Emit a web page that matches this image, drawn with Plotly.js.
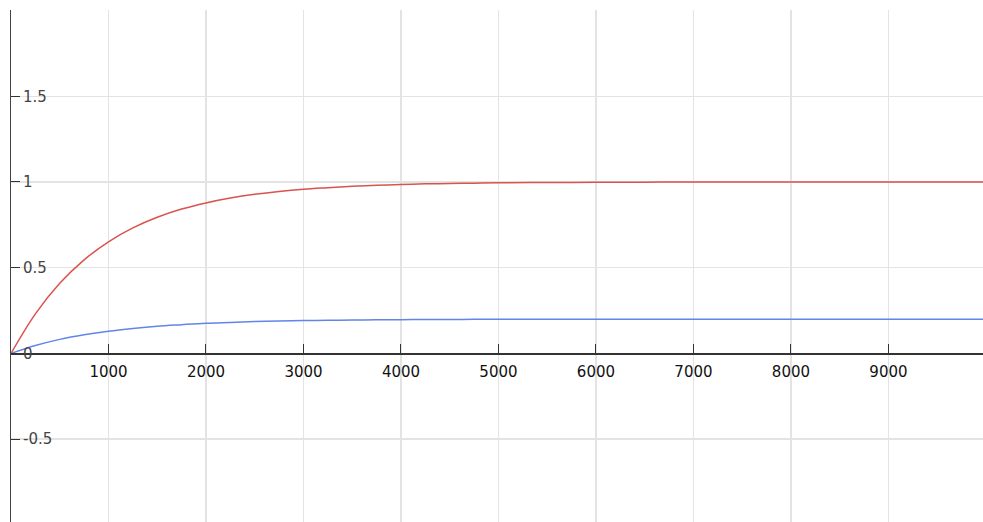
<!DOCTYPE html>
<html>
<head>
<meta charset="utf-8">
<script src="https://cdn.plot.ly/plotly-3.0.1.min.js"></script>
<style>html,body{margin:0;padding:0;background:#fff;}#chart{width:983px;height:522px;}</style>
</head>
<body>
<div id="chart"></div>
<script>
const xValues = [0, 250, 500, 750, 1000, 1250, 1500, 1750, 2000, 2250, 2500, 2750, 3000, 3250, 3500, 3750, 4000, 4250, 4500, 4750, 5000, 5500, 6000, 6500, 7000, 7500, 8000, 8500, 9000, 9500, 10000];
const redValues = [0, 0.231, 0.409, 0.546, 0.651, 0.732, 0.794, 0.842, 0.878, 0.906, 0.928, 0.945, 0.958, 0.967, 0.975, 0.981, 0.985, 0.989, 0.991, 0.993, 0.995, 0.997, 0.998, 0.999, 1, 1, 1, 1, 1, 1, 1];
const blueValues = [0, 0.046, 0.082, 0.109, 0.130, 0.146, 0.159, 0.168, 0.176, 0.181, 0.186, 0.189, 0.192, 0.193, 0.195, 0.196, 0.197, 0.198, 0.198, 0.199, 0.199, 0.2, 0.2, 0.2, 0.2, 0.2, 0.2, 0.2, 0.2, 0.2, 0.2];
const xTickVals = [1000, 2000, 3000, 4000, 5000, 6000, 7000, 8000, 9000];
const xTickText = ["1000", "2000", "3000", "4000", "5000", "6000", "7000", "8000", "9000"];
const yTickVals = [-0.5, 0, 0.5, 1, 1.5, 2];
const yTickText = ["-0.5", "0", "0.5", "1", "1.5", ""];

const yRange = [-0.983, 2.003];
const xRange = [0, 9970];
const zeroPos = (0 - yRange[0]) / (yRange[1] - yRange[0]);

const traces = [
  {x: xValues, y: blueValues, type: 'scatter', mode: 'lines', line: {color: '#6285e8', width: 1.5, shape: 'spline', smoothing: 1}, hoverinfo: 'skip'},
  {x: xValues, y: redValues, type: 'scatter', mode: 'lines', line: {color: '#d9534f', width: 1.5, shape: 'spline', smoothing: 1}, hoverinfo: 'skip'}
];

const layout = {
  width: 983, height: 522,
  margin: {l: 11, r: 0, t: 10, b: 0, pad: 0},
  paper_bgcolor: '#fff', plot_bgcolor: '#fff',
  showlegend: false,
  font: {family: 'DejaVu Sans', size: 15, color: '#111'},
  xaxis: {
    range: xRange, anchor: 'free', position: zeroPos,
    tickvals: xTickVals, ticktext: xTickText,
    ticks: 'inside', ticklen: 9, tickwidth: 1, tickcolor: '#333',
    showline: true, linecolor: '#333', linewidth: 1.2,
    showgrid: true, gridcolor: '#e3e3e3', gridwidth: 1.5,
    zeroline: false, ticklabelstandoff: 4,
    fixedrange: true
  },
  yaxis: {
    range: yRange,
    tickvals: yTickVals, ticktext: yTickText,
    ticks: 'inside', ticklen: 9, tickwidth: 1, tickcolor: '#333',
    ticklabelposition: 'inside', ticklabelstandoff: 3,
    showline: true, linecolor: '#444', linewidth: 1.2,
    showgrid: true, gridcolor: '#e3e3e3', gridwidth: 1.5,
    zeroline: false,
    fixedrange: true
  }
};

Plotly.newPlot('chart', traces, layout, {displayModeBar: false, staticPlot: true});
</script>
</body>
</html>
